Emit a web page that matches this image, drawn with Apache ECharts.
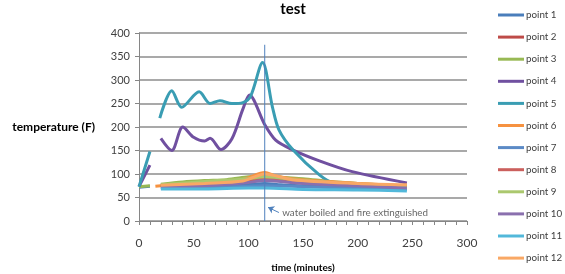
<!DOCTYPE html>
<html>
<head>
<meta charset="utf-8">
<script src="https://cdn.jsdelivr.net/npm/echarts@6/dist/echarts.min.js"></script>
<style>
  html, body { margin: 0; padding: 0; background: #fff; }
  #main { width: 565px; height: 274px; }
</style>
</head>
<body>
<div id="main"></div>
<script>
// time (minutes) / temperature (F) pairs for each point, '-' breaks the line
const point1 = [[0, 72], [10, 74], [15, '-'], [20, 72], [40, 73], [60, 74], [80, 75], [100, 78], [115, 80], [130, 77], [150, 75], [175, 72], [200, 71], [220, 70], [245, 68]]
const point2 = [[20, 76], [40, 80], [60, 82], [80, 84], [100, 92], [115, 96], [130, 90], [150, 86], [175, 82], [200, 78], [245, 73]]
const point3 = [[0, 73], [10, 75], [15, '-'], [20, 78], [40, 83], [60, 86], [80, 88], [100, 94], [115, 97], [130, 93], [150, 90], [175, 84], [200, 80], [245, 74]]
const point4 = [[0, 73], [10, 119], [15, '-'], [20, 176], [30, 150], [40, 200], [50, 178], [60, 170], [65, 176], [75, 152], [85, 175], [95, 238], [101, 268], [115, 205], [125, 172], [140, 152], [165, 128], [195, 105], [245, 81]]
const point5 = [[0, 73], [10, 148], [15, '-'], [19, 219], [30, 277], [39, 242], [55, 275], [65, 250], [74, 256], [85, 250], [95, 252], [102, 265], [113, 337], [122, 243], [128, 194], [141, 151], [165, 98], [180, 78], [200, 72], [245, 68]]
const point6 = [[15, 74], [30, 77], [50, 79], [70, 79], [85, 82], [100, 92], [115, 103], [125, 96], [140, 90], [160, 86], [180, 83], [200, 80], [245, 75]]
const point7 = [[20, 70], [60, 71], [100, 74], [115, 75], [150, 73], [200, 70], [245, 67]]
const point8 = [[20, 75], [60, 79], [100, 86], [115, 90], [150, 84], [200, 78], [245, 71]]
const point9 = [[20, 77], [60, 84], [100, 90], [115, 94], [150, 86], [200, 78], [245, 72]]
const point10 = [[20, 72], [60, 75], [100, 82], [115, 86], [150, 80], [200, 75], [245, 70]]
const point11 = [[20, 68], [60, 68], [100, 70], [115, 70], [150, 67], [200, 66], [245, 64]]
const point12 = [[20, 76], [60, 80], [95, 85], [115, 100], [140, 88], [200, 80], [245, 77]]

const pointData = [point1, point2, point3, point4, point5, point6, point7, point8, point9, point10, point11, point12]
const pointNames = pointData.map((d, i) => 'point ' + (i + 1))
const pointColors = [
  '#4A7EBB', '#BE4B48', '#98B954', '#7050A0', '#3A9DB3', '#F69240',
  '#5B8AC6', '#CB605D', '#ABC86E', '#8A70AE', '#52B8DA', '#F9A865'
]

// event marker: water boiled at ~115 min
const boilLine = [[115, 0], [115, 375]]
const arrowFrom = [128, 18]
const arrowTo = [118, 29]
const noteAt = [131, 17]
const noteText = 'water boiled and fire extinguished'

const textColor = '#404040'
const font = 'Lato, "Open Sans", sans-serif'

const series = pointData.map((d, i) => ({
  name: pointNames[i],
  type: 'line',
  data: d,
  smooth: 0.3,
  showSymbol: false,
  lineStyle: { width: 3, color: pointColors[i] },
  itemStyle: { color: pointColors[i] }
}))

series.push({
  name: 'boil',
  type: 'line',
  data: boilLine,
  showSymbol: false,
  silent: true,
  lineStyle: { width: 1, color: '#4F81BD' },
  markLine: {
    silent: true,
    symbol: ['none', 'arrow'],
    symbolSize: 6,
    lineStyle: { type: 'solid', width: 1, color: '#4F81BD' },
    label: { show: false },
    data: [[{ coord: arrowFrom }, { coord: arrowTo }]]
  }
})

series.push({
  name: 'note',
  type: 'scatter',
  data: [noteAt],
  symbolSize: 0,
  silent: true,
  label: {
    show: true,
    position: 'right',
    distance: 0,
    formatter: noteText,
    fontSize: 9.8,
    fontFamily: font,
    color: textColor
  }
})

const myChart = echarts.init(document.getElementById('main'))
myChart.setOption({
  animation: false,
  title: {
    text: 'test',
    left: 288,
    top: -3,
    textAlign: 'center',
    textStyle: { fontSize: 15, fontWeight: 'bold', color: '#000', fontFamily: font }
  },
  legend: {
    data: pointNames,
    orient: 'vertical',
    left: 493,
    top: 5,
    icon: 'rect',
    itemWidth: 26,
    itemHeight: 3,
    itemGap: 12.1,
    textStyle: { fontSize: 9.8, color: textColor, fontFamily: font, padding: [0, 0, 0, -3] }
  },
  grid: { left: 139, right: 98, top: 33, bottom: 53, outerBoundsMode: 'none' },
  xAxis: {
    type: 'value',
    min: 0,
    max: 300,
    interval: 50,
    name: 'time (minutes)',
    nameLocation: 'middle',
    nameGap: 42,
    nameTextStyle: { fontSize: 10, fontWeight: 'bold', color: '#000', fontFamily: font },
    axisLine: { lineStyle: { color: '#868686', width: 1 } },
    axisTick: { show: true, length: 4, lineStyle: { color: '#868686' } },
    minorTick: { show: true, splitNumber: 5, length: 4, lineStyle: { color: '#868686' } },
    axisLabel: { fontSize: 12, color: textColor, fontFamily: font, margin: 16 },
    splitLine: { show: false }
  },
  yAxis: {
    type: 'value',
    min: 0,
    max: 400,
    interval: 50,
    name: 'temperature (F)',
    nameLocation: 'middle',
    nameRotate: 0,
    nameGap: 44,
    nameTextStyle: { fontSize: 12, fontWeight: 'bold', color: '#000', fontFamily: font },
    axisLine: { show: true, lineStyle: { color: '#868686', width: 1 } },
    axisTick: { show: true, length: 4, lineStyle: { color: '#868686' } },
    axisLabel: { fontSize: 11, color: textColor, fontFamily: font, margin: 9 },
    splitLine: { show: true, lineStyle: { color: '#8C8C8C', width: 1.5 } }
  },
  series: series
})
</script>
</body>
</html>
